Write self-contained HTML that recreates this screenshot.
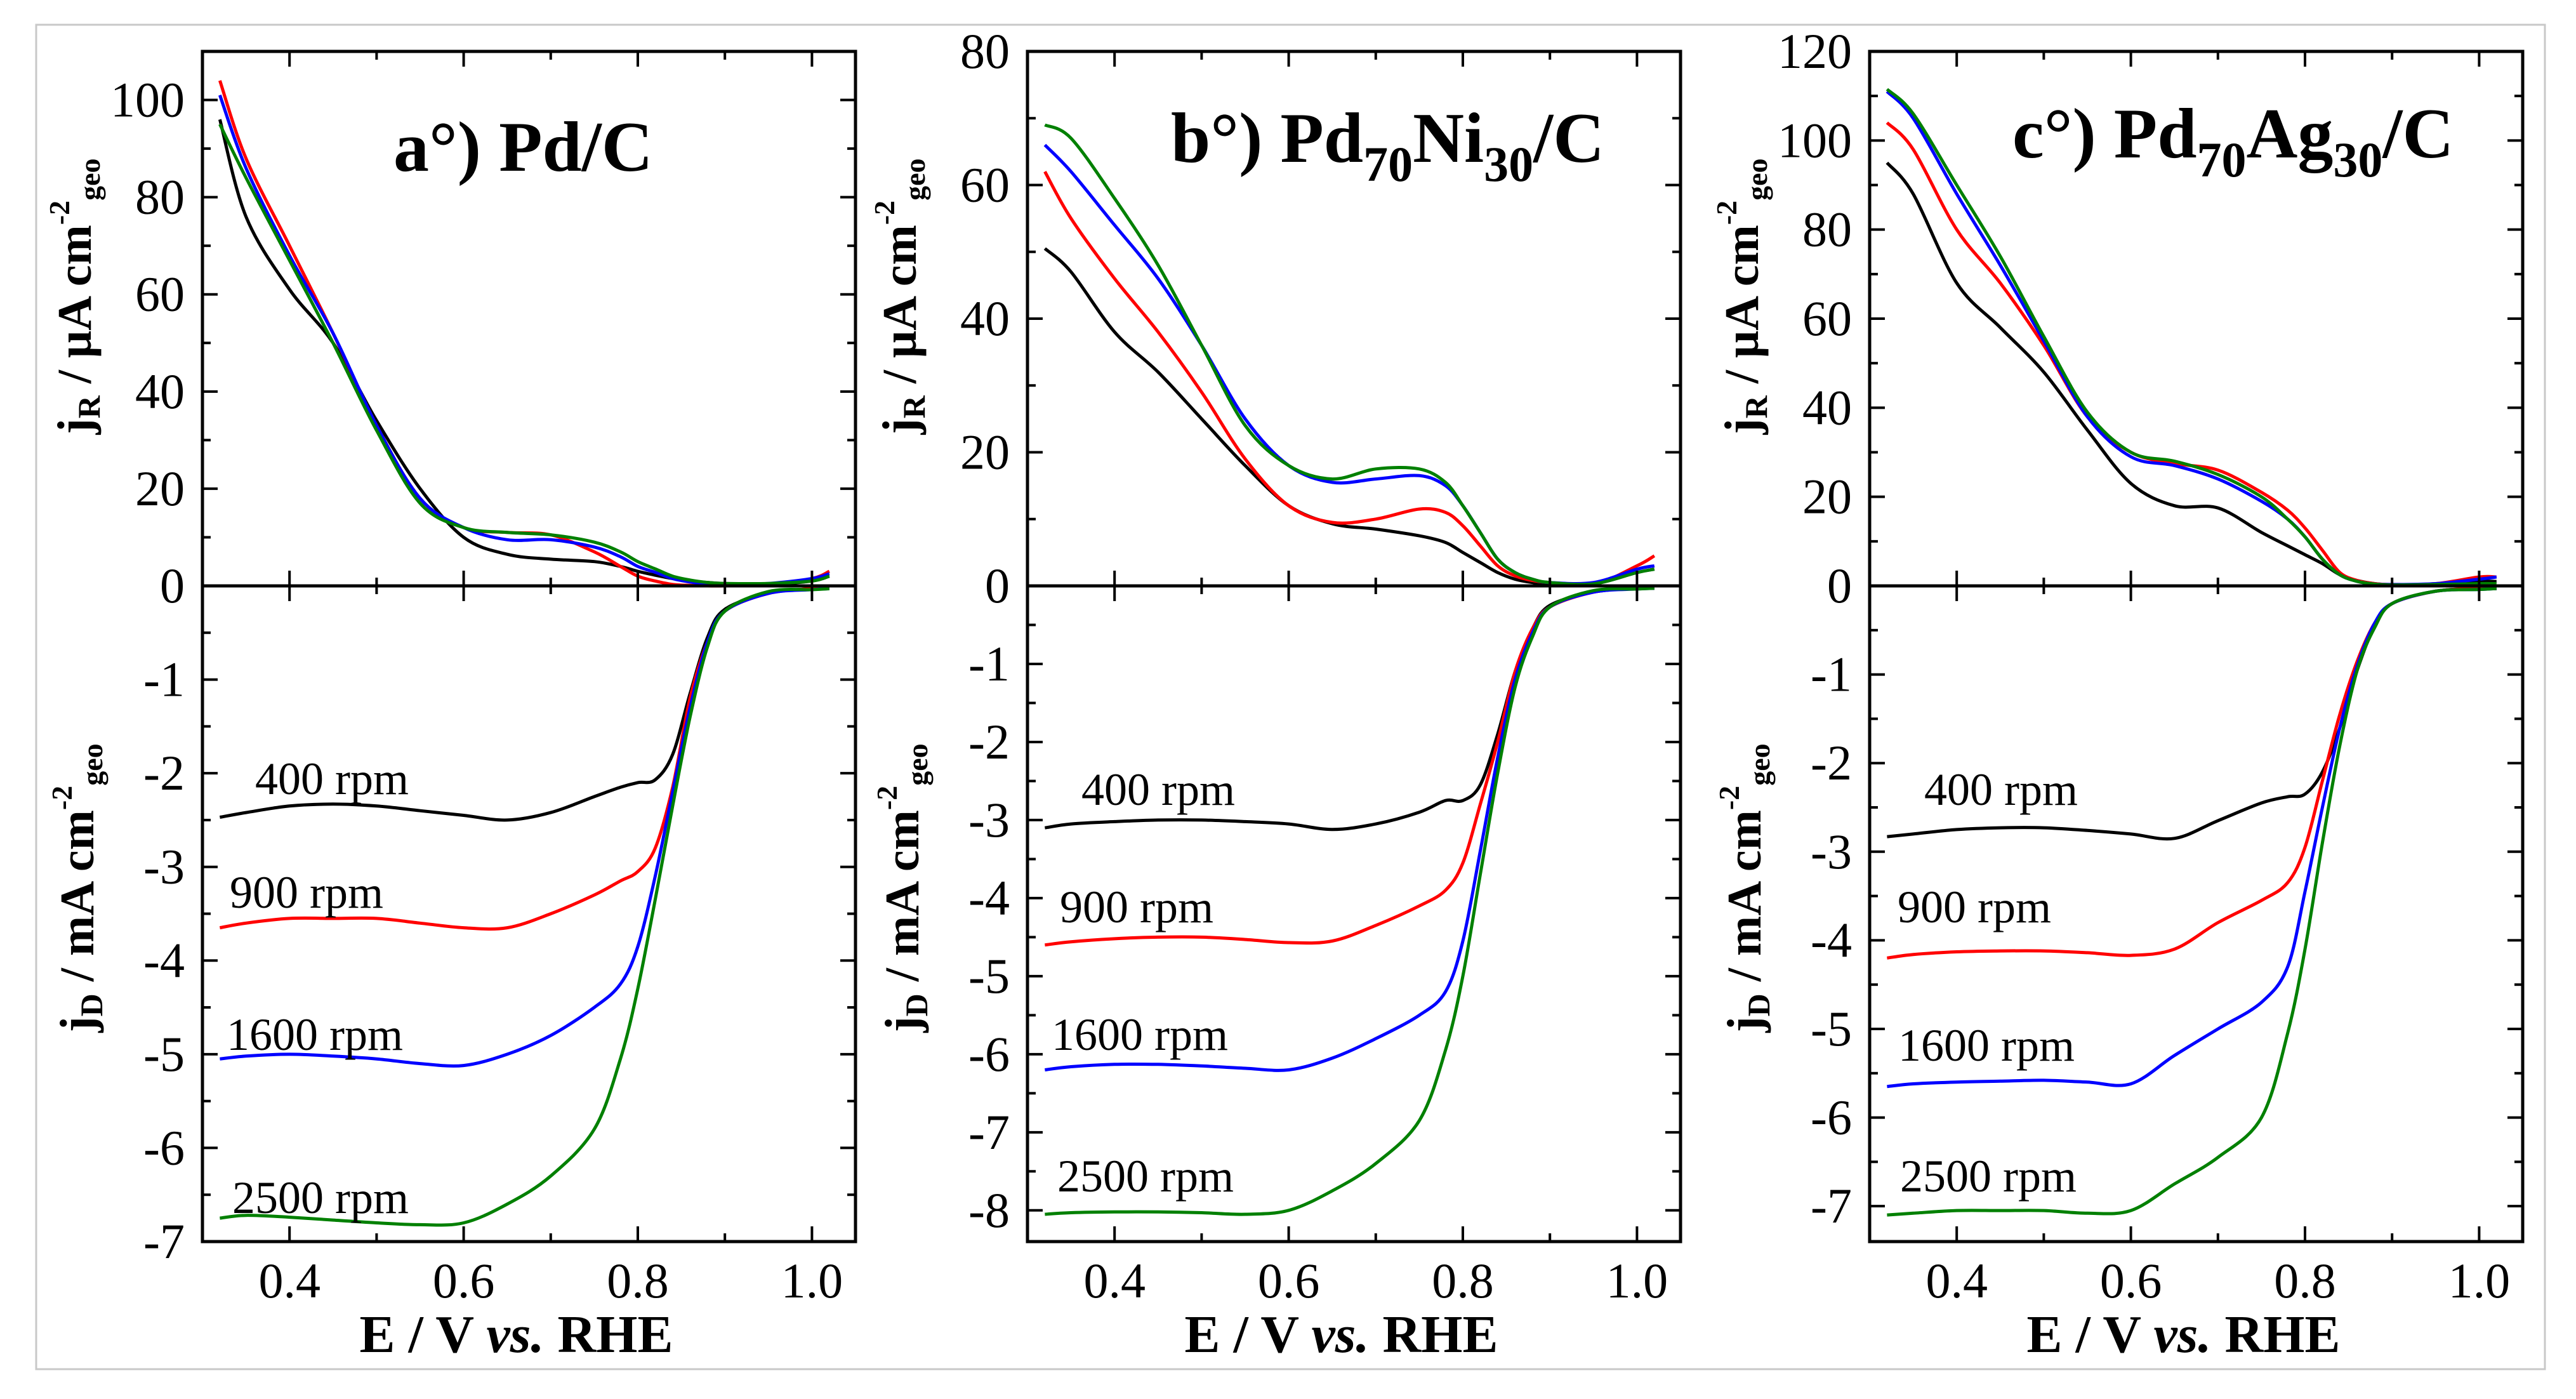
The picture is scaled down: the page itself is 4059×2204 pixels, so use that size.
<!DOCTYPE html>
<html><head><meta charset="utf-8"><style>
html,body{margin:0;padding:0;background:#fff;}
svg{display:block;font-family:"Liberation Serif",serif;}
</style></head><body>
<svg id="fig" width="4059" height="2204" viewBox="0 0 4059 2204" xmlns="http://www.w3.org/2000/svg" font-family="Liberation Serif, serif">
<rect x="57" y="39" width="3953" height="2118" fill="#fff" stroke="#c8c8c8" stroke-width="3"/>
</svg>
<script>
const E = [0.32,0.35,0.4,0.45,0.5,0.55,0.6,0.65,0.7,0.75,0.78,0.8,0.82,0.84,0.86,0.88,0.9,0.95,1.0,1.02];
const rpmLabels = ["400 rpm","900 rpm","1600 rpm","2500 rpm"];
const xTicks = [0.4,0.6,0.8,1.0];
const xTickLabels = ["0.4","0.6","0.8","1.0"];

const ringA_400 = [96,76,61,50,34,20,10,6.5,5.5,5,4,3,2.2,1.5,1,0.7,0.5,0.3,1,2];
const ringA_900 = [104,88,70,52,33,18,12,11,10.5,7,4,2,1,0.3,0.1,0,0,0.3,1.5,3];
const ringA_1600 = [101,86,68,52,33,18,12,9.5,9.5,8,6,4,2.8,1.5,0.8,0.4,0.3,0.5,1.5,2.5];
const ringA_2500 = [95,84,67,50,32,17,12,11,10.5,9,7,5,3.5,2,1.2,0.7,0.5,0.5,1,2];
const diskA_400 = [-2.47,-2.42,-2.35,-2.33,-2.35,-2.4,-2.45,-2.5,-2.42,-2.25,-2.15,-2.1,-2.07,-1.8,-1.15,-0.55,-0.25,-0.08,-0.03,-0.03];
const diskA_900 = [-3.65,-3.6,-3.55,-3.55,-3.55,-3.6,-3.65,-3.65,-3.5,-3.3,-3.15,-3.05,-2.8,-2.15,-1.2,-0.6,-0.27,-0.08,-0.03,-0.03];
const diskA_1600 = [-5.05,-5.02,-5.0,-5.02,-5.05,-5.1,-5.12,-5.0,-4.8,-4.5,-4.25,-3.85,-3.1,-2.2,-1.3,-0.6,-0.27,-0.08,-0.04,-0.03];
const diskA_2500 = [-6.75,-6.72,-6.74,-6.77,-6.8,-6.82,-6.8,-6.6,-6.3,-5.8,-5.05,-4.3,-3.35,-2.35,-1.4,-0.65,-0.27,-0.06,-0.04,-0.03];

const ringB_400 = [50.5,47,38,32,25,18,12,9.3,8.5,7.5,6.5,5,3.5,2,1,0.5,0.3,0.3,2,2.5];
const ringB_900 = [62,55,46,38,29,19,12,9.5,10,11.5,11,9,6,3,1.5,0.8,0.5,0.2,3,4.5];
const ringB_1600 = [66,62,54,46,36,25,18,15.5,16,16.5,15,12,8,4,2,1,0.5,0.5,2.5,3];
const ringB_2500 = [69,67,58,48,36,24,18,16,17.5,17.5,15.5,12,8,4,2,1,0.5,0.3,2,2.5];
const diskB_400 = [-3.1,-3.05,-3.02,-3.0,-3.0,-3.02,-3.05,-3.12,-3.05,-2.9,-2.75,-2.75,-2.55,-1.9,-1.1,-0.55,-0.25,-0.08,-0.03,-0.03];
const diskB_900 = [-4.6,-4.56,-4.52,-4.5,-4.5,-4.53,-4.57,-4.55,-4.35,-4.1,-3.9,-3.55,-2.8,-2.0,-1.1,-0.55,-0.27,-0.08,-0.03,-0.03];
const diskB_1600 = [-6.2,-6.16,-6.13,-6.13,-6.15,-6.18,-6.2,-6.05,-5.8,-5.5,-5.2,-4.55,-3.4,-2.2,-1.2,-0.6,-0.27,-0.08,-0.04,-0.03];
const diskB_2500 = [-8.05,-8.03,-8.02,-8.02,-8.03,-8.05,-8.0,-7.75,-7.4,-6.85,-5.95,-5.0,-3.7,-2.4,-1.3,-0.65,-0.27,-0.06,-0.04,-0.03];

const ringC_400 = [95,88,68,58,48,35,23,18,17.5,12,9,7,5,2.5,1.2,0.5,0.3,0.3,1,1];
const ringC_900 = [104,98,80,68,54,38,30,27.5,26,21,17,13,8,3,1.2,0.5,0.3,0.5,2,2];
const ringC_1600 = [111,105,88,72,55,38,29,27,24,19,15,11,6,2.5,1,0.4,0.3,0.5,1.5,2];
const ringC_2500 = [111.5,106,90,74,56,39,30,28,25,20,15,11,6,2.5,1,0.4,0.2,0.3,0.5,0.5];
const diskC_400 = [-2.83,-2.8,-2.75,-2.73,-2.73,-2.76,-2.8,-2.85,-2.65,-2.45,-2.38,-2.35,-2.1,-1.6,-0.95,-0.45,-0.2,-0.06,-0.03,-0.03];
const diskC_900 = [-4.2,-4.16,-4.13,-4.12,-4.12,-4.14,-4.17,-4.1,-3.8,-3.55,-3.35,-2.95,-2.2,-1.45,-0.85,-0.42,-0.2,-0.06,-0.03,-0.03];
const diskC_1600 = [-5.65,-5.62,-5.6,-5.59,-5.58,-5.6,-5.62,-5.3,-5.0,-4.7,-4.3,-3.45,-2.5,-1.6,-0.9,-0.42,-0.2,-0.06,-0.04,-0.03];
const diskC_2500 = [-7.1,-7.08,-7.05,-7.05,-7.05,-7.08,-7.05,-6.75,-6.45,-6.0,-5.05,-4.1,-2.9,-1.8,-0.95,-0.47,-0.2,-0.06,-0.04,-0.03];

const ringMaxes = [110,80,120];
const diskMins = [-7,-8.4,-7.4];
const ringTickLabels = [["0","20","40","60","80","100"],["0","20","40","60","80"],["0","20","40","60","80","100","120"]];
const diskTickLabels = [["0","-1","-2","-3","-4","-5","-6","-7"],["0","-1","-2","-3","-4","-5","-6","-7","-8"],["0","-1","-2","-3","-4","-5","-6","-7"]];

const svg = document.getElementById('fig');
const NS = 'http://www.w3.org/2000/svg';
const colors = ['#000000','#ff0000','#0000ff','#008000'];
const ringSets = [[ringA_400,ringA_900,ringA_1600,ringA_2500],[ringB_400,ringB_900,ringB_1600,ringB_2500],[ringC_400,ringC_900,ringC_1600,ringC_2500]];
const diskSets = [[diskA_400,diskA_900,diskA_1600,diskA_2500],[diskB_400,diskB_900,diskB_1600,diskB_2500],[diskC_400,diskC_900,diskC_1600,diskC_2500]];
const panelLeft = [319,1619,2946];
const panelLetters = ['a','b','c'];
const rpmPos = [
 [[402,1251],[362,1430],[357,1654],[366,1911]],
 [[1704,1268],[1670,1453],[1657,1654],[1666,1877]],
 [[3032,1268],[2990,1453],[2991,1671],[2994,1877]]
];
const titleX = [620,1845,3171], titleY=[269,255,248];
const W=1029, TOP=81, ZERO=923, BOT=1956, XMIN=0.3, XMAX=1.05;

function el(tag, attrs, parent){const e=document.createElementNS(NS,tag);for(const k in attrs)e.setAttribute(k,attrs[k]);(parent||svg).appendChild(e);return e;}
function smoothPath(pts){
  let d='M'+pts[0][0].toFixed(1)+','+pts[0][1].toFixed(1);
  for(let i=0;i<pts.length-1;i++){
    const p0=pts[i-1]||pts[i],p1=pts[i],p2=pts[i+1],p3=pts[i+2]||p2;
    const c1=[p1[0]+(p2[0]-p0[0])/6,p1[1]+(p2[1]-p0[1])/6];
    const c2=[p2[0]-(p3[0]-p1[0])/6,p2[1]-(p3[1]-p1[1])/6];
    d+=' C'+c1[0].toFixed(1)+','+c1[1].toFixed(1)+' '+c2[0].toFixed(1)+','+c2[1].toFixed(1)+' '+p2[0].toFixed(1)+','+p2[1].toFixed(1);
  }
  return d;
}

for(let p=0;p<3;p++){
  const L=panelLeft[p];
  const g=el('g',{});
  
  
  const xs=v=>L+(v-XMIN)/(XMAX-XMIN)*W;
  const yr=v=>ZERO-v/ringMaxes[p]*(ZERO-TOP);
  const yd=v=>ZERO+v/diskMins[p]*(BOT-ZERO);
  for(let s=0;s<4;s++){
    const rp=el('path',{d:smoothPath(E.map((e,i)=>[xs(e),yr(ringSets[p][s][i])])),fill:'none',stroke:colors[s],'stroke-width':5,'stroke-linejoin':'round'},g);
    
    
    const dp=el('path',{d:smoothPath(E.map((e,i)=>[xs(e),yd(diskSets[p][s][i])])),fill:'none',stroke:colors[s],'stroke-width':5,'stroke-linejoin':'round'},g);
    
    
  }
  const fr=el('rect',{x:L,y:TOP,width:W,height:BOT-TOP,fill:'none',stroke:'#000','stroke-width':5},g);
  
  
  const zl=el('line',{x1:L,x2:L+W,y1:ZERO,y2:ZERO,stroke:'#000','stroke-width':5},g);
  
  
  for(let v=0.3;v<=1.0501;v+=0.1){
    const vv=Math.round(v*10)/10; const x=xs(vv); const major=Math.abs(vv*10%2)<0.01;
    const len=major?24:13;
    [[BOT,-1],[TOP,1],[ZERO,1],[ZERO,-1]].forEach(([y,dir])=>{
      const t=el('line',{x1:x,x2:x,y1:y,y2:y+dir*len,stroke:'#000','stroke-width':4},g);
      
      
    });
  }
  xTicks.forEach((v,i)=>{
    const t=el('text',{x:xs(v),y:2044,'font-size':78,'text-anchor':'middle'},g);
    t.textContent=xTickLabels[i];
    
    
  });
  const xt=el('text',{x:L+W/2-20,y:2130,'font-size':84,'font-weight':'bold','text-anchor':'middle'},g);
  xt.innerHTML='E / V <tspan font-style="italic">vs.</tspan> RHE';
  
  
  for(let v=10;v<ringMaxes[p];v+=10){
    const y=yr(v); const major=v%20===0; const len=major?24:13;
    [[L,1],[L+W,-1]].forEach(([x,dir])=>{
      const t=el('line',{x1:x,x2:x+dir*len,y1:y,y2:y,stroke:'#000','stroke-width':4},g);
      
      
    });
  }
  ringTickLabels[p].forEach(lbl=>{
    const t=el('text',{x:L-28,y:yr(+lbl)+26,'font-size':78,'text-anchor':'end'},g);
    t.textContent=lbl;
    
    
  });
  for(let v=-0.5;v>diskMins[p];v-=0.5){
    const y=yd(v); const major=Math.abs(v%1)<0.01; const len=major?24:13;
    [[L,1],[L+W,-1]].forEach(([x,dir])=>{
      const t=el('line',{x1:x,x2:x+dir*len,y1:y,y2:y,stroke:'#000','stroke-width':4},g);
      
      
    });
  }
  diskTickLabels[p].slice(1).forEach(lbl=>{
    const t=el('text',{x:L-28,y:yd(+lbl)+26,'font-size':78,'text-anchor':'end'},g);
    t.textContent=lbl;
    
    
  });
  const ax=L-176;
  const rt=el('text',{x:0,y:0,'font-size':76,'font-weight':'bold','text-anchor':'middle',transform:'translate('+ax+',467) rotate(-90)'},g);
  rt.innerHTML='j<tspan font-size="50" dy="14">R</tspan><tspan dy="-14"> / μA cm</tspan><tspan font-size="46" dy="-34">-2</tspan><tspan font-size="46" dy="48">geo</tspan>';
  
  
  const dt=el('text',{x:0,y:0,'font-size':76,'font-weight':'bold','text-anchor':'middle',transform:'translate('+(ax+4)+',1399) rotate(-90)'},g);
  dt.innerHTML='j<tspan font-size="50" dy="14">D</tspan><tspan dy="-14"> / mA cm</tspan><tspan font-size="46" dy="-34">-2</tspan><tspan font-size="46" dy="48">geo</tspan>';
  
  
  for(let s=0;s<4;s++){
    const t=el('text',{x:rpmPos[p][s][0],y:rpmPos[p][s][1],'font-size':72},g);
    t.textContent=rpmLabels[s];
    
    
  }
  const tt=el('text',{x:titleX[p],y:titleY[p],'font-size':112,'font-weight':'bold'},g);
  if(p===0) tt.textContent='a°) Pd/C';
  else if(p===1) tt.innerHTML='b°) Pd<tspan font-size="78" dy="30">70</tspan><tspan dy="-30">Ni</tspan><tspan font-size="78" dy="30">30</tspan><tspan dy="-30">/C</tspan>';
  else tt.innerHTML='c°) Pd<tspan font-size="78" dy="30">70</tspan><tspan dy="-30">Ag</tspan><tspan font-size="78" dy="30">30</tspan><tspan dy="-30">/C</tspan>';
  
  
}
</script>
</body></html>
